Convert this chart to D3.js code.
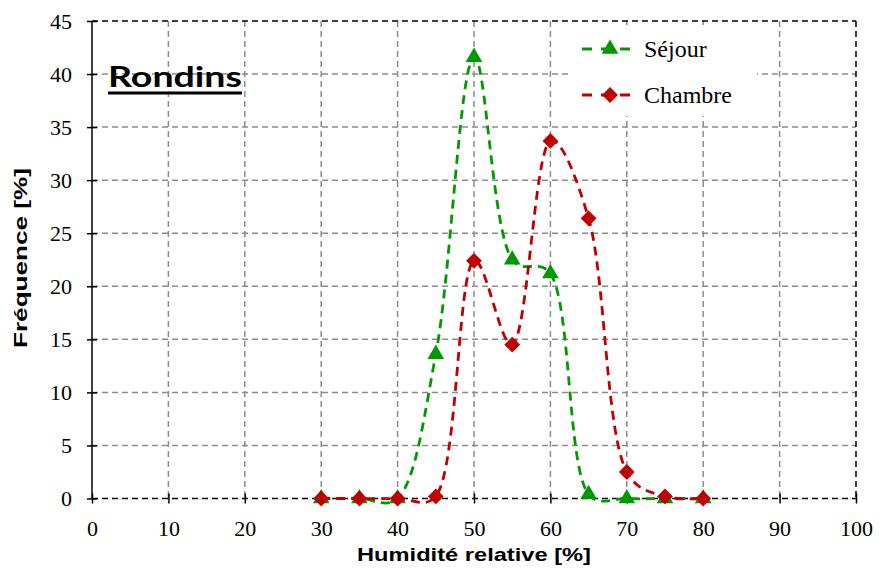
<!DOCTYPE html>
<html>
<head>
<meta charset="utf-8">
<script src="https://cdn.jsdelivr.net/npm/d3@7"></script>
<style>
  body { margin: 0; background: #fff; }
  svg { display: block; }
</style>
</head>
<body>
<div class="chart"></div>
<script>
const humidite = [30, 35, 40, 45, 50, 55, 60, 65, 70, 75, 80];
const sejour   = [0, 0, 0, 13.6, 41.6, 22.5, 21.2, 0.4, 0, 0, 0];
const chambre  = [0, 0, 0, 0.2, 22.4, 14.5, 33.7, 26.4, 2.5, 0.2, 0];
const xTicks = [0, 10, 20, 30, 40, 50, 60, 70, 80, 90, 100];
const yTicks = [0, 5, 10, 15, 20, 25, 30, 35, 40, 45];

const width = 882, height = 570;
const green = "#009a00", red = "#c00000";

const svg = d3.select(".chart").append("svg")
    .attr("width", width).attr("height", height)
    .attr("viewBox", [0, 0, width, height]);

const x = d3.scaleLinear().domain([0, 100]).range([92, 856]);
const y = d3.scaleLinear().domain([0, 45]).range([498.5, 21]);

// grid
svg.append("g").selectAll("line")
    .data(xTicks.slice(1, -1))
    .join("line")
    .attr("x1", d => x(d)).attr("x2", d => x(d))
    .attr("y1", y(45)).attr("y2", y(0))
    .attr("stroke", "#8c8c8c").attr("stroke-width", 1.5)
    .attr("stroke-dasharray", "6,4");
svg.append("g").selectAll("line")
    .data(yTicks.slice(1, -1))
    .join("line")
    .attr("x1", x(0)).attr("x2", x(100))
    .attr("y1", d => y(d)).attr("y2", d => y(d))
    .attr("stroke", "#8c8c8c").attr("stroke-width", 1.5)
    .attr("stroke-dasharray", "6,4");

// frame
const frame = svg.append("g").attr("stroke", "#000").attr("stroke-width", 1.5);
frame.append("line").attr("x1", x(0)).attr("x2", x(100)).attr("y1", y(45)).attr("y2", y(45)).attr("stroke-dasharray", "6,4");
frame.append("line").attr("x1", x(100)).attr("x2", x(100)).attr("y1", y(45)).attr("y2", y(0)).attr("stroke-dasharray", "6,4");
frame.append("line").attr("x1", x(0)).attr("x2", x(100)).attr("y1", y(0)).attr("y2", y(0)).attr("stroke-dasharray", "6,4");
frame.append("line").attr("x1", x(0)).attr("x2", x(0)).attr("y1", y(45)).attr("y2", y(0));

// axes ticks and labels
const yAxis = svg.append("g").attr("transform", `translate(${x(0)},0)`)
    .call(d3.axisLeft(y).tickValues(yTicks).tickSize(0).tickPadding(20));
yAxis.select(".domain").remove();
yAxis.selectAll(".tick").append("line").attr("x1", -5).attr("x2", 5).attr("stroke", "#000").attr("stroke-width", 1.5);
yAxis.selectAll("text").attr("font-family", "Liberation Serif, serif").attr("font-size", 22).attr("fill", "#000");

const xAxis = svg.append("g").attr("transform", `translate(0,${y(0)})`)
    .call(d3.axisBottom(x).tickValues(xTicks).tickSize(0).tickPadding(22));
xAxis.select(".domain").remove();
xAxis.selectAll(".tick").append("line").attr("y1", -5).attr("y2", 5).attr("stroke", "#000").attr("stroke-width", 1.5);
xAxis.selectAll("text").attr("font-family", "Liberation Serif, serif").attr("font-size", 22).attr("fill", "#000");

// axis titles
svg.append("text")
    .attr("x", 474).attr("y", 561)
    .attr("text-anchor", "middle")
    .attr("font-family", "Liberation Sans, Arial, sans-serif")
    .attr("font-weight", "bold").attr("font-size", 19)
    .attr("textLength", 234).attr("lengthAdjust", "spacingAndGlyphs")
    .text("Humidité relative [%]");
svg.append("text")
    .attr("transform", "translate(27,258) rotate(-90)")
    .attr("text-anchor", "middle")
    .attr("font-family", "Liberation Sans, Arial, sans-serif")
    .attr("font-weight", "bold").attr("font-size", 19)
    .attr("textLength", 180).attr("lengthAdjust", "spacingAndGlyphs")
    .text("Fréquence [%]");

// series
const series = [
  {name: "Séjour", values: sejour, color: green, symbol: d3.symbolTriangle, size: 120, rot: 0},
  {name: "Chambre", values: chambre, color: red, symbol: d3.symbolSquare, size: 125, rot: 45}
];

const line = d3.line()
    .x((d, i) => x(humidite[i]))
    .y(d => y(d))
    .curve(d3.curveCatmullRom.alpha(0.4));

series.forEach(s => {
  svg.append("path")
      .datum(s.values)
      .attr("d", line)
      .attr("fill", "none")
      .attr("stroke", s.color)
      .attr("stroke-width", 2.8)
      .attr("stroke-dasharray", "9,6");
});
series.forEach(s => {
  svg.append("g").selectAll("path")
      .data(s.values)
      .join("path")
      .attr("transform", (d, i) => `translate(${x(humidite[i])},${y(d)}) rotate(${s.rot})`)
      .attr("d", d3.symbol(s.symbol, s.size))
      .attr("fill", s.color);
});

// title
svg.append("text")
    .attr("x", 108).attr("y", 87)
    .attr("font-family", "Lato, Open Sans, sans-serif")
    .attr("font-weight", "bold").attr("font-size", 28)
    .attr("textLength", 134).attr("lengthAdjust", "spacingAndGlyphs")
    .text("Rondins");
svg.append("line")
    .attr("x1", 108).attr("x2", 242).attr("y1", 93).attr("y2", 93)
    .attr("stroke", "#000").attr("stroke-width", 3);

// legend
const legend = svg.append("g");
legend.append("rect")
    .attr("x", 570).attr("y", 25).attr("width", 187).attr("height", 91)
    .attr("fill", "#fff");
series.forEach((s, i) => {
  const ly = 49 + i * 46;
  legend.append("line")
      .attr("x1", 582).attr("x2", 638).attr("y1", ly).attr("y2", ly)
      .attr("stroke", s.color).attr("stroke-width", 2.8)
      .attr("stroke-dasharray", "10,9");
  legend.append("path")
      .attr("transform", `translate(610,${ly}) rotate(${s.rot})`)
      .attr("d", d3.symbol(s.symbol, s.size))
      .attr("fill", s.color);
  legend.append("text")
      .attr("x", 644).attr("y", ly + 8)
      .attr("font-family", "Liberation Serif, serif")
      .attr("font-size", 24)
      .text(s.name);
});
</script>
</body>
</html>
